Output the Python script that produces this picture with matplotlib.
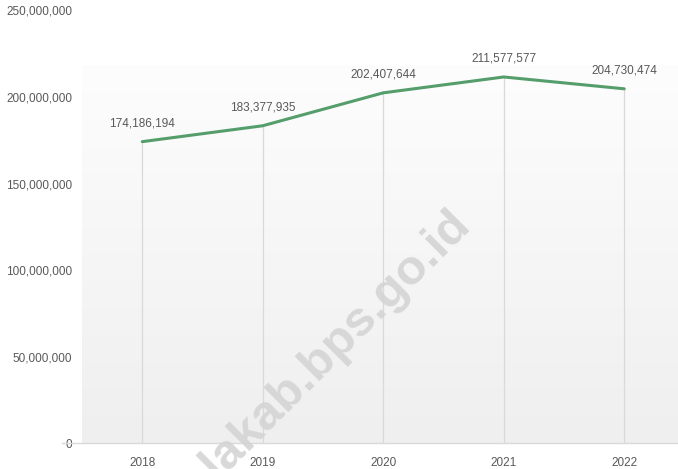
import numpy as np
import matplotlib
matplotlib.use("Agg")
import matplotlib.pyplot as plt
from matplotlib.colors import LinearSegmentedColormap

years = ["2018", "2019", "2020", "2021", "2022"]
values = [174186194, 183377935, 202407644, 211577577, 204730474]
y_ticks = [0, 50000000, 100000000, 150000000, 200000000, 250000000]

plt.rcParams['font.family'] = ['Liberation Sans Narrow', 'Liberation Sans', 'DejaVu Sans']
text_color = '#595959'
line_color = '#559e6c'

fig = plt.figure(figsize=(6.78, 4.69), dpi=100)
ax = fig.add_axes([82 / 678, 26 / 469, 602.5 / 678, 432.5 / 469])

x = np.arange(len(years))
ax.set_xlim(-0.5, len(years) - 0.5)
ax.set_ylim(0, 250000000)

# gradient background of the plot area
grad = LinearSegmentedColormap.from_list('bg', ['#efefef', '#fdfdfd'])
ax.imshow(np.linspace(0, 1, 256).reshape(-1, 1), cmap=grad, origin='lower', aspect='auto',
          extent=[-0.5, len(years) - 0.5, 0, 218000000], zorder=0)

# drop lines
for xi, v in zip(x, values):
    ax.plot([xi, xi], [0, v], color='#d9d9d9', lw=0.9, zorder=1)

ax.plot(x, values, color=line_color, lw=2.2, zorder=3, solid_capstyle='round')

for xi, v in zip(x, values):
    ax.annotate(f"{v:,}", (xi, v), xytext=(0, 9), textcoords='offset points',
                ha='center', va='bottom', fontsize=8.5, color=text_color)

# baseline extends slightly left of the plot area
ax.plot([-0.5 - 20 / 120.5, len(years) - 0.5], [0, 0], color='#d9d9d9', lw=1, clip_on=False, zorder=2)

for s in ax.spines.values():
    s.set_visible(False)
ax.set_xticks(x)
ax.set_xticklabels(years)
ax.set_yticks(y_ticks)
ax.set_yticklabels([f"{t:,}" for t in y_ticks])
ax.tick_params(length=0, labelsize=8.5, labelcolor=text_color)
ax.tick_params(axis='x', pad=10)
ax.tick_params(axis='y', pad=7)

# watermark
fig.text(472 / 678, 1 - 226 / 469, "malakab.bps.go.id", rotation=45, rotation_mode='anchor',
         ha='right', va='baseline', fontsize=35.5, fontweight='bold', color='#d4d4d4',
         family=['Liberation Sans', 'DejaVu Sans'], alpha=0.9, zorder=5)

fig.savefig("out.png", dpi=100)
